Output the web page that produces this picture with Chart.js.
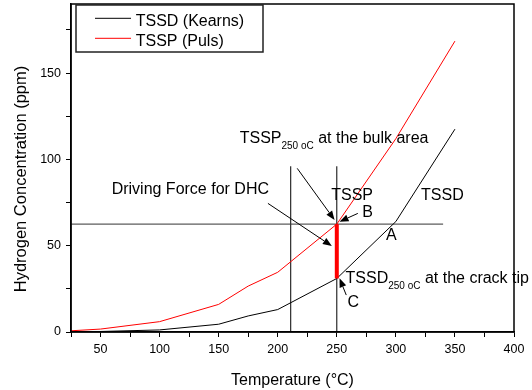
<!DOCTYPE html>
<html><head><meta charset="utf-8">
<script src="https://cdn.jsdelivr.net/npm/chart.js@4.4.0/dist/chart.umd.min.js"></script>
<style>html,body{margin:0;padding:0;background:#fff}</style>
</head><body>
<canvas id="c" width="532" height="390"></canvas>
<script>
// ---- data ----
const temperatures = [25, 50, 100, 150, 175, 200, 250, 300, 350];
const tssdKearns   = [0.3, 0.3, 1.2, 4.5, 9.3, 13, 31, 64, 117.5];
const tsspPuls     = [0.7, 1.7, 6, 16, 26.6, 34.6, 62.5, 112, 168.5];
const xTickLabels  = [50, 100, 150, 200, 250, 300, 350, 400];
const yTickLabels  = [0, 50, 100, 150];
const seriesNames  = ['TSSD (Kearns)', 'TSSP (Puls)'];
const yAxisTitle   = 'Hydrogen Concentration (ppm)';
const xAxisTitle   = 'Temperature (°C)';

// reference lines (data units)
const crackTemp   = 250;   // test temperature
const lowTemp     = 211;   // second vertical guide
const tsspAtCrack = 62.5;  // TSSP at 250 oC (horizontal guide)
const tssdAtCrack = 31;    // TSSD at 250 oC
const guideTop    = 96;
const guideEnd    = 340;

const pts = (xs, ys) => xs.map((v, i) => ({x: v, y: ys[i]}));

// annotation texts anchored in data units
const notes = [
  {at: [167.8, 109.6], parts: [['TSSP'], ['250 oC', 'sub'], [' at the bulk area']]},
  {at: [59.4, 80.2],   parts: [['Driving Force for DHC']]},
  {at: [245.3, 76.4],  parts: [['TSSP']]},
  {at: [271.5, 66.6],  parts: [['B']]},
  {at: [321.3, 76.4],  parts: [['TSSD']]},
  {at: [291.7, 53.3],  parts: [['A']]},
  {at: [257.4, 28.2],  parts: [['TSSD'], ['250 oC', 'sub'], [' at the crack tip']]},
  {at: [259.0, 14.5],  parts: [['C']]}
];
const arrows = [
  {from: [216.5, 94.8], to: [248.1, 64.9]},
  {from: [267.8, 68.7], to: [252.3, 63.9]},
  {from: [191.7, 74.5], to: [245.8, 49.8]},
  {from: [258.0, 21.4], to: [252.3, 31.1]}
];

const FONT = '"Liberation Sans", Arial, sans-serif';

const overlay = {
  id: 'overlay',
  afterDatasetsDraw(chart) {
    const {ctx, chartArea: a, scales: {x, y}} = chart;
    ctx.save();
    // frame
    ctx.strokeStyle = '#000';
    ctx.lineWidth = 1.5;
    ctx.strokeRect(a.left, a.top, a.right - a.left, a.bottom - a.top);

    // arrows
    ctx.lineWidth = 1;
    arrows.forEach(ar => {
      const x1 = x.getPixelForValue(ar.from[0]), y1 = y.getPixelForValue(ar.from[1]);
      const x2 = x.getPixelForValue(ar.to[0]), y2 = y.getPixelForValue(ar.to[1]);
      const ang = Math.atan2(y2 - y1, x2 - x1);
      const L = 9, W = 3.5;
      const bx = x2 - L * Math.cos(ang), by = y2 - L * Math.sin(ang);
      ctx.strokeStyle = '#000';
      ctx.beginPath(); ctx.moveTo(x1, y1); ctx.lineTo(bx, by); ctx.stroke();
      ctx.fillStyle = '#000';
      ctx.beginPath();
      ctx.moveTo(x2, y2);
      ctx.lineTo(bx + W * Math.sin(ang), by - W * Math.cos(ang));
      ctx.lineTo(bx - W * Math.sin(ang), by + W * Math.cos(ang));
      ctx.closePath(); ctx.fill();
    });

    // texts
    ctx.fillStyle = '#000';
    ctx.textBaseline = 'alphabetic';
    ctx.textAlign = 'left';
    notes.forEach(n => {
      let px = x.getPixelForValue(n.at[0]);
      const py = y.getPixelForValue(n.at[1]);
      n.parts.forEach(([t, kind]) => {
        const sub = kind === 'sub';
        ctx.font = (sub ? '10px ' : '16px ') + FONT;
        ctx.fillText(t, px, py + (sub ? 5.8 : 0));
        px += ctx.measureText(t).width;
      });
    });

    // y-axis title (sits a little below the plot centre in the reference)
    ctx.save();
    ctx.translate(21.5, (a.top + a.bottom) / 2 + 11);
    ctx.rotate(-Math.PI / 2);
    ctx.textAlign = 'center';
    ctx.textBaseline = 'middle';
    ctx.font = '16.5px ' + FONT;
    ctx.fillText(yAxisTitle, 0, 0);
    ctx.restore();

    // legend
    const lx = a.left + 5, ly = a.top + 1;
    ctx.fillStyle = '#fff';
    ctx.fillRect(lx, ly, 187, 47);
    ctx.strokeStyle = '#222';
    ctx.lineWidth = 1.5;
    ctx.strokeRect(lx, ly, 187, 47);
    chart.data.datasets.slice(0, 2).forEach((ds, i) => {
      const yy = ly + 13.3 + i * 20;
      ctx.strokeStyle = ds.borderColor;
      ctx.lineWidth = 1;
      ctx.beginPath(); ctx.moveTo(lx + 19, yy); ctx.lineTo(lx + 55, yy); ctx.stroke();
      ctx.fillStyle = '#000';
      ctx.font = '16px ' + FONT;
      ctx.fillText(ds.label, lx + 59.7, yy + 7.5);
    });
    ctx.restore();
  }
};

const lineDs = (label, data, color, width, order) => ({
  label, data, borderColor: color, backgroundColor: color, borderWidth: width,
  pointRadius: 0, fill: false, tension: 0, order
});

new Chart(document.getElementById('c'), {
  type: 'line',
  data: {
    datasets: [
      lineDs(seriesNames[0], pts(temperatures, tssdKearns), '#000', 1, 1),
      lineDs(seriesNames[1], pts(temperatures, tsspPuls), '#ff0000', 1, 0),
      lineDs('guide-h', [{x: 25, y: tsspAtCrack}, {x: guideEnd, y: tsspAtCrack}], '#333', 1, 2),
      lineDs('guide-v1', [{x: lowTemp, y: 0}, {x: lowTemp, y: guideTop}], '#000', 1, 2),
      lineDs('guide-v2', [{x: crackTemp, y: 0}, {x: crackTemp, y: guideTop}], '#000', 1, 2),
      lineDs('driving', [{x: crackTemp, y: tssdAtCrack}, {x: crackTemp, y: tsspAtCrack}], '#ff0000', 4, -1)
    ]
  },
  options: {
    responsive: false,
    animation: false,
    devicePixelRatio: 1,
    layout: {autoPadding: false, padding: {left: 0, top: 4, right: 18, bottom: 0}},
    plugins: {legend: {display: false}, tooltip: {enabled: false}},
    scales: {
      x: {
        type: 'linear', min: 25, max: 400,
        afterFit: s => { s.height = 58; s.paddingLeft = 0; s.paddingRight = 0; },
        border: {color: '#000', width: 1.5},
        grid: {drawOnChartArea: false, tickLength: 5, tickColor: '#000'},
        ticks: {
          stepSize: 25, includeBounds: false, autoSkip: false, maxRotation: 0,
          color: '#000', padding: 5, font: {family: FONT, size: 12.5},
          callback: v => xTickLabels.includes(v) ? String(v) : ''
        },
        title: {display: true, text: xAxisTitle, color: '#000',
                font: {family: FONT, size: 16}, padding: {top: 0, bottom: 0}}
      },
      y: {
        type: 'linear', min: 0, max: 190,
        afterFit: s => { s.width = 71; s.paddingTop = 0; s.paddingBottom = 0; },
        border: {color: '#000', width: 1.5},
        grid: {drawOnChartArea: false, tickLength: 5, tickColor: '#000'},
        ticks: {
          stepSize: 25, includeBounds: false, autoSkip: false,
          color: '#000', padding: 5, font: {family: FONT, size: 12.5},
          callback: v => yTickLabels.includes(v) ? String(v) : ''
        },
        title: {display: false}
      }
    }
  },
  plugins: [overlay]
});
</script>
</body></html>
